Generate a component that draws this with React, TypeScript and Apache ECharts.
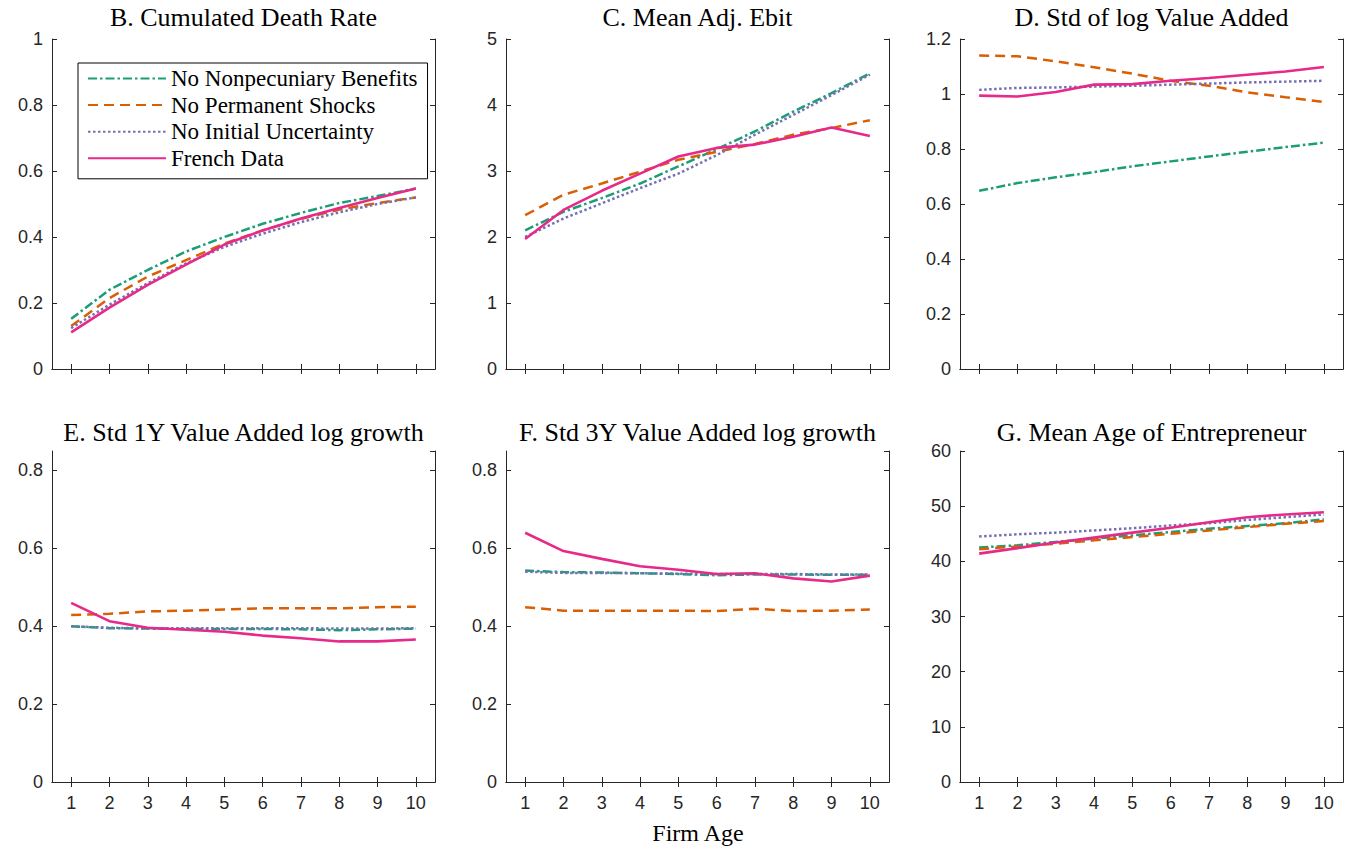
import React, { useEffect, useRef } from "react";
import * as echarts from "echarts";

const ages = ["1", "2", "3", "4", "5", "6", "7", "8", "9", "10"];
const seriesNames = ["No Nonpecuniary Benefits", "No Permanent Shocks", "No Initial Uncertainty", "French Data"];
const titles = [
  "B. Cumulated Death Rate",
  "C. Mean Adj. Ebit",
  "D. Std of log Value Added",
  "E. Std 1Y Value Added log growth",
  "F. Std 3Y Value Added log growth",
  "G. Mean Age of Entrepreneur",
];

// B. Cumulated Death Rate
const deathNoNonpec = [0.152, 0.24, 0.3, 0.356, 0.4, 0.44, 0.473, 0.503, 0.524, 0.547];
const deathNoPerm = [0.13, 0.215, 0.28, 0.33, 0.38, 0.42, 0.455, 0.483, 0.503, 0.52];
const deathNoInit = [0.124, 0.195, 0.26, 0.32, 0.37, 0.41, 0.445, 0.475, 0.5, 0.52];
const deathFrench = [0.111, 0.186, 0.255, 0.316, 0.377, 0.42, 0.456, 0.488, 0.518, 0.547];

// C. Mean Adj. Ebit
const ebitNoNonpec = [2.1, 2.38, 2.59, 2.81, 3.07, 3.33, 3.6, 3.9, 4.18, 4.48];
const ebitNoPerm = [2.33, 2.64, 2.81, 2.99, 3.17, 3.29, 3.41, 3.55, 3.65, 3.77];
const ebitNoInit = [2.0, 2.28, 2.51, 2.74, 2.96, 3.24, 3.55, 3.85, 4.15, 4.46];
const ebitFrench = [1.97, 2.41, 2.7, 2.96, 3.22, 3.35, 3.4, 3.52, 3.66, 3.53];

// D. Std of log Value Added
const stdVaNoNonpec = [0.648, 0.676, 0.697, 0.716, 0.737, 0.755, 0.773, 0.79, 0.807, 0.823];
const stdVaNoPerm = [1.14, 1.137, 1.119, 1.097, 1.074, 1.048, 1.03, 1.006, 0.988, 0.971];
const stdVaNoInit = [1.015, 1.022, 1.024, 1.027, 1.03, 1.034, 1.038, 1.042, 1.045, 1.048];
const stdVaFrench = [0.994, 0.991, 1.007, 1.034, 1.036, 1.048, 1.058, 1.07, 1.082, 1.098];

// E. Std 1Y Value Added log growth
const g1NoNonpec = [0.4, 0.395, 0.394, 0.393, 0.393, 0.393, 0.392, 0.39, 0.392, 0.394];
const g1NoPerm = [0.429, 0.432, 0.438, 0.44, 0.443, 0.446, 0.446, 0.446, 0.449, 0.45];
const g1NoInit = [0.4, 0.396, 0.395, 0.395, 0.395, 0.395, 0.395, 0.394, 0.394, 0.395];
const g1French = [0.46, 0.413, 0.396, 0.391, 0.386, 0.376, 0.369, 0.361, 0.361, 0.366];

// F. Std 3Y Value Added log growth
const g3NoNonpec = [0.543, 0.539, 0.538, 0.536, 0.534, 0.531, 0.533, 0.533, 0.532, 0.532];
const g3NoPerm = [0.449, 0.44, 0.44, 0.44, 0.44, 0.439, 0.445, 0.439, 0.44, 0.443];
const g3NoInit = [0.54, 0.537, 0.537, 0.536, 0.535, 0.534, 0.534, 0.534, 0.533, 0.533];
const g3French = [0.64, 0.593, 0.573, 0.554, 0.545, 0.534, 0.536, 0.523, 0.515, 0.53];

// G. Mean Age of Entrepreneur
const ageNoNonpec = [42.5, 42.9, 43.5, 44.1, 44.7, 45.3, 45.9, 46.4, 46.9, 47.6];
const ageNoPerm = [42.2, 42.7, 43.2, 43.8, 44.4, 45.0, 45.6, 46.2, 46.8, 47.3];
const ageNoInit = [44.5, 44.9, 45.2, 45.6, 46.0, 46.5, 46.9, 47.5, 48.0, 48.5];
const ageFrench = [41.4, 42.4, 43.4, 44.3, 45.2, 46.1, 47.1, 48.0, 48.5, 48.9];

const panels = [
  [deathNoNonpec, deathNoPerm, deathNoInit, deathFrench],
  [ebitNoNonpec, ebitNoPerm, ebitNoInit, ebitFrench],
  [stdVaNoNonpec, stdVaNoPerm, stdVaNoInit, stdVaFrench],
  [g1NoNonpec, g1NoPerm, g1NoInit, g1French],
  [g3NoNonpec, g3NoPerm, g3NoInit, g3French],
  [ageNoNonpec, ageNoPerm, ageNoInit, ageFrench],
];
const yMin = [0, 0, 0, 0, 0, 0];
const yMax = [1, 5, 1.2, 0.85, 0.85, 60];
const yStep = [0.2, 1, 0.2, 0.2, 0.2, 10];

const colors = ["#1b9e77", "#d95f02", "#7570b3", "#e7298a"];
const dashes: any[] = [[9, 3, 2.5, 3], [10, 6], [2.5, 2.5], "solid"];
const widths = [2.5, 2.5, 2.5, 2.6];

const AXIS = "#262626";
const SERIF = "'Liberation Serif', 'Times New Roman', serif";
const SANS = "'Liberation Sans', Arial, Helvetica, sans-serif";

export default function App() {
  const ref = useRef<HTMLDivElement>(null);
  useEffect(() => {
    const chart = echarts.init(ref.current!, null, { renderer: "svg" });
    const lefts = [52, 506, 960];
    const tops = [39, 451];
    const titleCenters = [17, 432];
    const W = 383;
    const Hs = [330, 331];
    const grids: any[] = [];
    const xAxes: any[] = [];
    const yAxes: any[] = [];
    const series: any[] = [];
    const title: any[] = [];
    for (let p = 0; p < 6; p++) {
      const r = Math.floor(p / 3);
      const c = p % 3;
      grids.push({ left: lefts[c], top: tops[r], width: W, height: Hs[r], containLabel: false });
      title.push({
        text: titles[p],
        left: lefts[c] + W / 2,
        top: titleCenters[r] - 13,
        padding: 0,
        textAlign: "center",
        textStyle: { fontFamily: SERIF, fontSize: 26, fontWeight: "normal", color: "#000" },
      });
      const axisLine = { show: true, lineStyle: { color: AXIS, width: 1 } };
      const tick = { show: true, inside: true, length: 5, alignWithLabel: true, lineStyle: { color: AXIS } };
      xAxes.push({
        type: "category",
        gridIndex: p,
        data: ages,
        position: "bottom",
        boundaryGap: true,
        axisLine,
        axisTick: tick,
        axisLabel: { show: r === 1, color: AXIS, fontFamily: SANS, fontSize: 18, margin: 12 },
        splitLine: { show: false },
      });
      xAxes.push({
        type: "category",
        gridIndex: p,
        data: ages,
        position: "top",
        boundaryGap: true,
        axisLine,
        axisTick: tick,
        axisLabel: { show: false },
        splitLine: { show: false },
      });
      const aligned = Math.abs(yMax[p] / yStep[p] - Math.round(yMax[p] / yStep[p])) < 1e-9;
      yAxes.push({
        type: "value",
        gridIndex: p,
        position: "left",
        min: yMin[p],
        max: yMax[p],
        interval: yStep[p],
        axisLine,
        axisTick: { show: true, inside: true, length: 5, lineStyle: { color: AXIS } },
        axisLabel: { color: AXIS, fontFamily: SANS, fontSize: 18, margin: 9, showMaxLabel: aligned },
        splitLine: { show: false },
      });
      yAxes.push({
        type: "value",
        gridIndex: p,
        position: "right",
        min: yMin[p],
        max: yMax[p],
        interval: yStep[p],
        axisLine,
        axisTick: { show: true, inside: true, length: 5, lineStyle: { color: AXIS } },
        axisLabel: { show: false },
        splitLine: { show: false },
      });
      for (let s = 0; s < 4; s++) {
        series.push({
          type: "line",
          name: seriesNames[s],
          xAxisIndex: p * 2,
          yAxisIndex: p * 2,
          data: panels[p][s],
          symbol: "none",
          z: 2 + (s === 3 ? 1 : 0),
          lineStyle: { color: colors[s], width: widths[s], type: dashes[s] },
          itemStyle: { color: colors[s], opacity: 0 },
        });
      }
    }
    chart.setOption({
      animation: false,
      backgroundColor: "#fff",
      title,
      grid: grids,
      xAxis: xAxes,
      yAxis: yAxes,
      series,
      legend: {
        data: seriesNames,
        orient: "vertical",
        left: 78,
        top: 63,
        itemWidth: 78,
        itemHeight: 18,
        itemGap: 3.6,
        padding: [4, 10, 9, 9],
        borderColor: "#000",
        borderWidth: 1,
        backgroundColor: "#fff",
        selectedMode: false,
        itemStyle: { opacity: 0 },
        textStyle: { fontFamily: SERIF, fontSize: 23, color: "#000" },
      },
      graphic: [
        {
          type: "text",
          x: 698,
          y: 833,
          style: {
            text: "Firm Age",
            fontFamily: SERIF,
            fontSize: 24,
            fill: "#000",
            align: "center",
            verticalAlign: "middle",
          },
        },
      ],
    });
    return () => chart.dispose();
  }, []);
  return <div ref={ref} style={{ width: 1350, height: 847, position: "absolute", left: 0, top: 0 }} />;
}
